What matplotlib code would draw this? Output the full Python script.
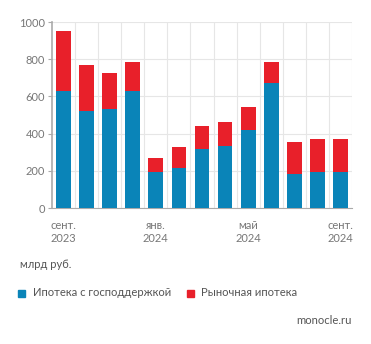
import numpy as np
from matplotlib import pyplot as plt
from matplotlib.patches import Rectangle

plt.rcParams['font.family'] = ['Lato', 'DejaVu Sans']

# monthly data, sept 2023 - sept 2024
months = ['сент.\n2023', '', '', '', 'янв.\n2024', '', '', '', 'май\n2024', '', '', '', 'сент.\n2024']
gov = [631, 523, 532, 627, 194, 213, 319, 333, 421, 670, 181, 194, 194]
market = [322, 244, 192, 156, 73, 117, 123, 129, 120, 117, 172, 179, 175]

BLUE = '#0a84b8'
RED = '#e8202a'
GRAY = '#777777'

fig = plt.figure(figsize=(3.71, 3.44), dpi=100)
ax = fig.add_axes([0.140, 0.395, 0.809, 0.541])

x = np.arange(len(gov))
ax.bar(x, gov, width=0.64, color=BLUE, zorder=3)
ax.bar(x, market, width=0.64, bottom=gov, color=RED, zorder=3)

ax.set_xlim(-0.5, len(gov) - 0.5)
ax.set_ylim(0, 1000)
ax.set_yticks(range(0, 1001, 200))
ax.set_xticks(x)
ax.set_xticklabels(months, fontsize=8, color=GRAY, linespacing=1.25)
ax.tick_params(axis='x', length=0, pad=8.5)
ax.tick_params(axis='y', length=3, width=0.8, color='#aaaaaa', labelsize=8, labelcolor=GRAY, pad=2)

# grid: horizontal lines plus vertical lines between categories
ax.grid(axis='y', color='#e6e6e6', linewidth=0.8, zorder=0)
for b in np.arange(0.5, len(gov) - 0.5, 1):
    ax.axvline(b, color='#e6e6e6', linewidth=0.8, zorder=0)
ax.axvline(len(gov) - 0.5, color='#e6e6e6', linewidth=0.8, zorder=0)

for s in ['top', 'right']:
    ax.spines[s].set_visible(False)
ax.spines['left'].set_color('#aaaaaa')
ax.spines['left'].set_linewidth(1.2)
ax.spines['bottom'].set_color('#aaaaaa')
ax.spines['bottom'].set_linewidth(0.8)

fig.text(20 / 371, 1 - 265 / 344, 'млрд руб.', fontsize=8, color='#555555', va='center')

# legend
fig.patches.append(Rectangle((18 / 371, 1 - 297 / 344), 7 / 371, 7 / 344, color=BLUE, transform=fig.transFigure))
fig.text(33 / 371, 1 - 293 / 344, 'Ипотека с господдержкой', fontsize=8.1, color='#555555', va='center')
fig.patches.append(Rectangle((187 / 371, 1 - 297 / 344), 7 / 371, 7 / 344, color=RED, transform=fig.transFigure))
fig.text(201 / 371, 1 - 293 / 344, 'Рыночная ипотека', fontsize=8.1, color='#555555', va='center')

fig.text(352 / 371, 1 - 321 / 344, 'monocle.ru', fontsize=8.1, color='#555555', va='center', ha='right')

plt.savefig('out.png', dpi=100)
